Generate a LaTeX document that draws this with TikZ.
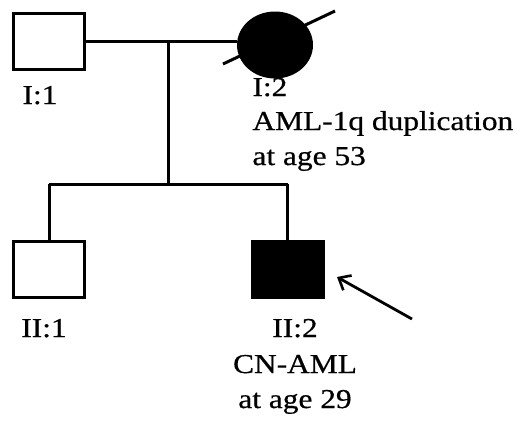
\documentclass[tikz,border=0pt]{standalone}
\usepackage{fontspec}
\setmainfont{Liberation Serif}[FakeStretch=1.15,FakeBold=0.6]
\usetikzlibrary{shapes.geometric,arrows.meta}
\begin{document}
\begin{tikzpicture}[x=1pt,y=-1pt,
  line width=3pt,
  male/.style={draw,rectangle,minimum width=71pt,minimum height=56pt,inner sep=0pt},
  female/.style={draw,ellipse,minimum width=73pt,minimum height=64pt,inner sep=0pt},
  affected/.style={fill=black},
  lbl/.style={inner sep=0pt,font=\fontsize{27.3}{32}\selectfont},
  proband/.style={-{Straight Barb[length=10pt,width=17pt,line width=2.6pt]},line width=2.8pt}]
  \useasboundingbox (0,0) rectangle (518,421);

  % generation I
  \node[male] (i1) at (48.5,41.5) {};
  \node[female,affected] (i2) at (275,45) {};
  \coordinate (slashA) at (223,64);
  \coordinate (slashB) at (335,11);
  \draw (slashA) -- (slashB);

  % mating line and line of descent
  \coordinate (mate) at (168,41.5);
  \draw (i1.east) -- (i1.east -| i2.west);
  \coordinate (sibL) at (49,184);
  \coordinate (sibR) at (287.5,184);
  \draw (mate) -- (mate |- sibL);
  \draw (sibL) -- (sibR);

  % generation II
  \node[male] (ii1) at (49,269.5) {};
  \node[male,affected] (ii2) at (287.5,269.5) {};
  \draw (sibL) -- (ii1.north);
  \draw (sibR) -- (ii2.north);

  % proband arrow
  \coordinate (ptail) at (412,319);
  \coordinate (ptip) at (337,277);
  \draw[proband] (ptail) -- (ptip);

  % labels
  \node[lbl,anchor=base] (l11) at (40,104) {I:1};
  \node[lbl,anchor=base west] (l12) at (251,96) {I:2};
  \node[lbl,anchor=base west] (l12a) at (251,130) {AML-1q duplication};
  \node[lbl,anchor=base west] (l12b) at (251,165) {at age 53};
  \node[lbl,anchor=base] (l21) at (44,337) {II:1};
  \node[lbl,anchor=base] (l22) at (295,337) {II:2};
  \node[lbl,anchor=base] (l22a) at (295,373) {CN-AML};
  \node[lbl,anchor=base] (l22b) at (295,408) {at age 29};
\end{tikzpicture}
\end{document}
